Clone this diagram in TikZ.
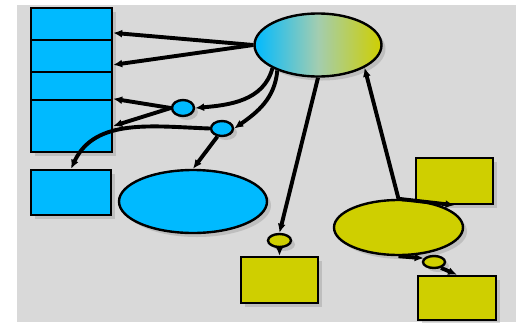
\documentclass[tikz,border=0pt]{standalone}
\usetikzlibrary{arrows.meta,shadows,shapes.geometric}
\definecolor{myBlue}{HTML}{00BAFF}
\definecolor{myYellow}{HTML}{CFCF00}
\definecolor{myMid}{HTML}{A3CDB0}
\definecolor{myGray}{HTML}{D9D9D9}

\begin{document}
\begin{tikzpicture}[x=1pt, y=1pt, >={Latex[length=9pt,width=8pt]}]

  \tikzstyle{R}=[rectangle, draw, line width=2.4pt, inner sep=0pt,
    drop shadow={opacity=0.3, shadow xshift=4pt, shadow yshift=-4pt}]
  \tikzstyle{E}=[ellipse, draw, line width=2.4pt, inner sep=0pt,
    drop shadow={opacity=0.3, shadow xshift=4pt, shadow yshift=-4pt}]
  \tikzstyle{A}=[->, line width=3.9pt]

  \useasboundingbox (0,0) rectangle (516,-322);
  \fill[myGray] (17,-5) rectangle (516,-322);

  % left stack
  \node[R, fill=myBlue, minimum width=81pt, minimum height=32pt] at (71.5,-24) (stackA) {};
  \node[R, fill=myBlue, minimum width=81pt, minimum height=32pt] at (71.5,-56) (stackB) {};
  \node[R, fill=myBlue, minimum width=81pt, minimum height=28pt] at (71.5,-86) (stackC) {};
  \node[R, fill=myBlue, minimum width=81pt, minimum height=52pt] at (71.5,-126) (stackD) {};
  \node[R, fill=myBlue, minimum width=80pt, minimum height=45pt] at (71,-192.5) (low) {};

  \node[E, left color=myBlue, right color=myYellow, middle color=myMid, minimum width=127pt, minimum height=63pt] at (318,-45) (top) {};
  \node[E, fill=myBlue, minimum width=148pt, minimum height=63pt] at (193,-201.5) (big) {};
  \node[E, fill=myBlue, minimum width=22pt, minimum height=16pt] at (183,-108) (dotA) {};
  \node[E, fill=myBlue, minimum width=22pt, minimum height=15pt] at (222,-128.5) (dotB) {};

  % yellow part
  \node[R, fill=myYellow, minimum width=77pt, minimum height=46pt] at (454.5,-181) (boxTR) {};
  \node[E, fill=myYellow, minimum width=129pt, minimum height=55pt] at (398.5,-227.5) (yel) {};
  \node[R, fill=myYellow, minimum width=78pt, minimum height=44pt] at (457,-298) (boxBR) {};
  \node[R, fill=myYellow, minimum width=77pt, minimum height=46pt] at (279.5,-280) (boxBM) {};
  \node[E, fill=myYellow, minimum width=23pt, minimum height=13pt] at (279.5,-240.5) (dotC) {};
  \node[E, fill=myYellow, minimum width=22pt, minimum height=12pt] at (434,-262) (dotD) {};

  \draw[A] (top.west) -- (stackA.-12);
  \draw[A] (top.west) -- (stackB.-12);
  \draw[A] (top.207) to[out=-105, in=5] (dotA.east);
  \draw[A] (top.212) to[out=-95, in=35] (dotB.east);
  \draw[A] (dotA.west) -- (stackC.-17);
  \draw[A] (dotA.west) -- (stackD.east);
  \draw[A] (dotB.west) to[out=178, in=65] (low.north);
  \draw[A] (dotB.-120) -- (big.north);

  \draw[A] (top.south) -- (dotC.north);
  \draw[A] (dotC.south) -- (boxBM.north);
  \draw[A] (yel.north) -- (top.-26);
  \draw[A] (yel.north) -- (boxTR.south);
  \draw[A] (yel.south) -- (dotD.160);
  \draw[A] (dotD.-40) -- (boxBR.north);

\end{tikzpicture}
\end{document}
